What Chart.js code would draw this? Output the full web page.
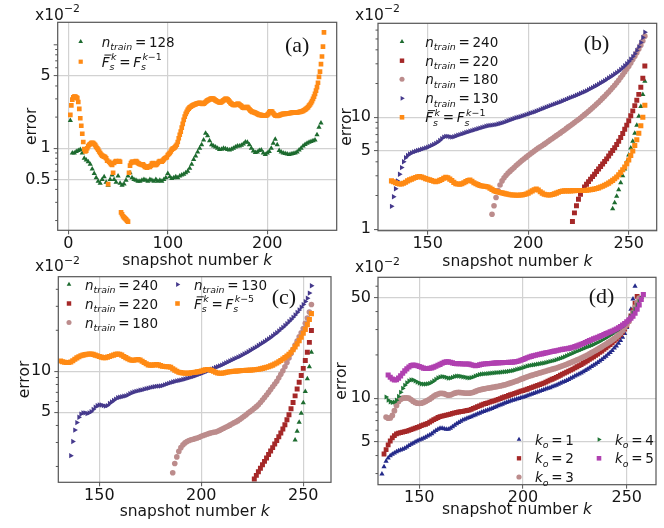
<!DOCTYPE html>
<html>
<head>
<meta charset="utf-8">
<script src="https://cdn.jsdelivr.net/npm/chart.js@4.4.1/dist/chart.umd.min.js"></script>
<style>
html, body { margin: 0; padding: 0; background: #fff; }
#wrap { position: relative; width: 664px; height: 528px; overflow: hidden; }
#wrap canvas { position: absolute; left: 0; top: 0; }
</style>
</head>
<body>
<div id="wrap">
  <canvas id="pa" width="664" height="528"></canvas>
  <canvas id="pb" width="664" height="528"></canvas>
  <canvas id="pc" width="664" height="528"></canvas>
  <canvas id="pd" width="664" height="528"></canvas>
</div>
<script>
// ---- text ----
const yTitle = 'error';
const xTitle = ['snapshot number ', 'k'];
const offsetText = 'x10^{−2}';

// ---- ticks ----
const aXTicks = [0, 100, 200];
const aYTicks = [0.5, 1, 5];
const bXTicks = [150, 200, 250];
const bYTicks = [1, 5, 10];
const cXTicks = [150, 200, 250];
const cYTicks = [5, 10];
const dXTicks = [150, 200, 250];
const dYTicks = [5, 10, 50];

// ---- panel (a): error (x10^-2) per snapshot k ----
const aLabels = ['n_{train} = 128', '\\bar{F}_s^k = F_s^{k−1}'];
const aGreenK0 = 2, aGreenStep = 2;   // k = 2, 4, ..., 254
const aGreen = [
  1.85, 0.9, 0.9, 0.93, 0.95, 0.97, 0.9, 0.8, 0.77, 0.74,
  0.7, 0.63, 0.57, 0.52, 0.48, 0.46, 0.5, 0.53, 0.47, 0.44,
  0.5, 0.55, 0.5, 0.47, 0.54, 0.46, 0.44, 0.45, 0.49, 0.54,
  0.58, 0.52, 0.5, 0.49, 0.48, 0.48, 0.49, 0.5, 0.49, 0.48,
  0.5, 0.49, 0.48, 0.5, 0.48, 0.49, 0.48, 0.5, 0.52, 0.57,
  0.53, 0.51, 0.52, 0.53, 0.52, 0.54, 0.55, 0.56, 0.58, 0.6,
  0.64, 0.7, 0.78, 0.84, 0.92, 1.0, 1.08, 1.2, 1.4, 1.32,
  1.18, 1.08, 1.05, 1.03, 1.0, 0.97, 0.98, 1.0, 0.99, 0.97,
  0.96, 0.98, 1.0, 1.03, 1.05, 1.05, 1.07, 1.1, 1.15, 1.14,
  1.08, 1.0, 0.94, 0.91, 0.92, 0.95, 0.96, 0.9, 0.87, 0.9,
  0.93, 1.0, 1.12, 1.22, 1.08, 0.95, 0.92, 0.9, 0.89, 0.88,
  0.87, 0.88, 0.89, 0.9, 0.92, 0.96, 1.0, 1.05, 1.09, 1.12,
  1.14, 1.16, 1.18, 1.2, 1.35, 1.6, 1.75
];
const aOrangeK0 = 2;                  // k = 2 ... 257
const aOrange = [
  2.1, 2.6, 2.95, 3.1, 3.15, 3.15, 3.1, 3.05, 2.8, 2.4,
  1.95, 1.65, 1.38, 1.15, 0.98, 0.93, 0.95, 1.0, 1.05, 1.08,
  1.1, 1.12, 1.13, 1.12, 1.1, 1.07, 1.03, 1.0, 0.97, 0.93,
  0.9, 0.87, 0.85, 0.84, 0.83, 0.82, 0.8, 0.76, 0.45, 0.74,
  0.72, 0.7, 0.69, 0.58, 0.72, 0.74, 0.75, 0.74, 0.74, 0.75,
  0.74, 0.24, 0.23, 0.22, 0.215, 0.21, 0.205, 0.2, 0.195, 0.58,
  0.68, 0.72, 0.74, 0.74, 0.73, 0.74, 0.75, 0.74, 0.72, 0.71,
  0.7, 0.7, 0.69, 0.7, 0.68, 0.66, 0.66, 0.65, 0.66, 0.67,
  0.66, 0.68, 0.71, 0.72, 0.71, 0.69, 0.69, 0.7, 0.72, 0.74,
  0.75, 0.74, 0.74, 0.76, 0.78, 0.8, 0.81, 0.82, 0.86, 0.88,
  0.9, 0.93, 0.97, 0.99, 1.0, 1.02, 1.05, 1.08, 1.15, 1.25,
  1.35, 1.45, 1.58, 1.72, 1.88, 2.02, 2.15, 2.25, 2.35, 2.42,
  2.48, 2.52, 2.56, 2.6, 2.63, 2.65, 2.67, 2.7, 2.72, 2.74,
  2.75, 2.73, 2.7, 2.68, 2.7, 2.75, 2.8, 2.85, 2.9, 2.93,
  2.96, 3.0, 3.02, 3.02, 3.0, 2.95, 2.9, 2.86, 2.83, 2.8,
  2.78, 2.77, 2.8, 2.85, 2.9, 2.95, 3.0, 3.0, 2.97, 2.9,
  2.82, 2.75, 2.7, 2.66, 2.63, 2.62, 2.63, 2.66, 2.68, 2.68,
  2.65, 2.6, 2.55, 2.5, 2.47, 2.45, 2.47, 2.5, 2.5, 2.45,
  2.38, 2.32, 2.28, 2.25, 2.24, 2.22, 2.2, 2.18, 2.15, 2.12,
  2.1, 2.1, 2.09, 2.08, 2.08, 2.07, 2.07, 2.08, 2.1, 2.15,
  2.22, 2.27, 2.28, 2.25, 2.18, 2.12, 2.08, 2.06, 2.05, 2.06,
  2.08, 2.1, 2.12, 2.14, 2.15, 2.15, 2.15, 2.16, 2.17, 2.18,
  2.18, 2.19, 2.2, 2.21, 2.22, 2.22, 2.22, 2.22, 2.22, 2.23,
  2.24, 2.25, 2.26, 2.28, 2.3, 2.33, 2.36, 2.4, 2.45, 2.5,
  2.58, 2.65, 2.75, 2.85, 3.0, 3.15, 3.35, 3.6, 3.9, 4.3,
  4.9, 5.5, 6.5, 7.7, 9.6, 13.2
];

// ---- panel (b) ----
const bLabels = ['n_{train} = 240', 'n_{train} = 220', 'n_{train} = 180', 'n_{train} = 130', '\\bar{F}_s^k = F_s^{k−1}'];
const bGreenK0 = 242;
const bGreen = [1.52, 1.72, 1.97, 2.25, 2.6, 3.0, 3.45, 4.0, 4.6, 5.3, 6.1, 7.2, 8.5, 10.2, 12.5, 16.0, 21.0];
const bRedK0 = 222;
const bRed = [
  1.17, 1.4, 1.62, 1.85, 2.05, 2.22, 2.38, 2.52, 2.66, 2.8,
  2.95, 3.1, 3.27, 3.45, 3.63, 3.83, 4.03, 4.25, 4.5, 4.77,
  5.05, 5.35, 5.7, 6.1, 6.6, 7.15, 7.8, 8.5, 9.3, 10.3,
  11.4, 12.7, 14.2, 16.0, 18.5, 22.3, 28.7
];
const bPinkK0 = 182;
const bPink = [
  1.36, 1.62, 1.92, 2.22, 2.48, 2.7, 2.88, 3.03, 3.17, 3.3,
  3.43, 3.56, 3.7, 3.84, 3.98, 4.12, 4.26, 4.4, 4.55, 4.7,
  4.85, 5.0, 5.15, 5.3, 5.45, 5.6, 5.75, 5.92, 6.1, 6.28,
  6.46, 6.65, 6.85, 7.05, 7.25, 7.47, 7.7, 7.95, 8.2, 8.45,
  8.7, 8.97, 9.25, 9.55, 9.85, 10.2, 10.55, 10.9, 11.3, 11.7,
  12.15, 12.6, 13.1, 13.6, 14.2, 14.8, 15.4, 16.1, 16.8, 17.6,
  18.4, 19.3, 20.3, 21.4, 22.6, 23.9, 25.3, 26.9, 28.6, 30.5,
  32.7, 35.0, 37.7, 40.6, 44.0, 48.0, 53.0
];
const bPurpleK0 = 132;
const bPurple = [
  1.6, 1.95, 2.3, 2.7, 3.1, 3.55, 4.0, 4.35, 4.55, 4.7,
  4.8, 4.9, 4.97, 5.05, 5.1, 5.18, 5.25, 5.32, 5.4, 5.5,
  5.6, 5.72, 5.85, 6.0, 6.2, 6.45, 6.65, 6.75, 6.75, 6.7,
  6.65, 6.7, 6.8, 6.9, 7.0, 7.1, 7.2, 7.3, 7.4, 7.5,
  7.6, 7.7, 7.8, 7.9, 8.0, 8.1, 8.2, 8.3, 8.4, 8.45,
  8.5, 8.55, 8.6, 8.7, 8.8, 8.9, 9.0, 9.15, 9.3, 9.45,
  9.6, 9.75, 9.9, 10.0, 10.1, 10.25, 10.4, 10.55, 10.7, 10.85,
  11.0, 11.15, 11.3, 11.5, 11.7, 11.9, 12.1, 12.3, 12.5, 12.7,
  12.9, 13.1, 13.3, 13.5, 13.7, 13.95, 14.2, 14.45, 14.7, 14.95,
  15.2, 15.45, 15.7, 16.0, 16.3, 16.6, 16.9, 17.2, 17.6, 18.0,
  18.4, 18.8, 19.2, 19.7, 20.2, 20.7, 21.2, 21.8, 22.4, 23.0,
  23.6, 24.3, 25.0, 25.8, 26.7, 27.7, 28.8, 30.0, 31.4, 33.0,
  34.8, 36.8, 39.5, 42.5, 46.5, 51.5, 57.5
];
const bOrangeK0 = 132;
const bOrange = [
  2.7, 2.65, 2.6, 2.56, 2.53, 2.53, 2.57, 2.63, 2.7, 2.76,
  2.8, 2.85, 2.9, 2.94, 2.95, 2.93, 2.88, 2.83, 2.79, 2.76,
  2.72, 2.68, 2.66, 2.68, 2.73, 2.78, 2.85, 2.91, 2.88, 2.8,
  2.72, 2.62, 2.55, 2.53, 2.52, 2.55, 2.6, 2.66, 2.72, 2.75,
  2.68, 2.6, 2.55, 2.5, 2.46, 2.43, 2.42, 2.41, 2.38, 2.33,
  2.27, 2.21, 2.17, 2.15, 2.13, 2.11, 2.09, 2.07, 2.05, 2.03,
  2.02, 2.02, 2.01, 2.01, 2.02, 2.02, 2.04, 2.06, 2.1, 2.15,
  2.2, 2.25, 2.28, 2.24, 2.16, 2.1, 2.05, 2.03, 2.02, 2.02,
  2.04, 2.07, 2.1, 2.14, 2.17, 2.19, 2.2, 2.2, 2.2, 2.2,
  2.21, 2.21, 2.22, 2.22, 2.22, 2.22, 2.22, 2.23, 2.24, 2.25,
  2.27, 2.29, 2.31, 2.34, 2.38, 2.42, 2.47, 2.52, 2.58, 2.65,
  2.73, 2.82, 2.93, 3.06, 3.22, 3.4, 3.6, 3.85, 4.15, 4.55,
  5.0, 5.6, 6.3, 7.2, 8.4, 10.0, 12.8
];

// ---- panel (c) ----
const cLabels = ['n_{train} = 240', 'n_{train} = 220', 'n_{train} = 180', 'n_{train} = 130', '\\bar{F}_s^k = F_s^{k−5}'];
const cGreenK0 = 246;
const cGreen = [3.13, 3.63, 4.22, 4.92, 5.88, 7.1, 8.8, 10.8, 13.8];
const cRedK0 = 226;
const cRed = [
  1.62, 1.72, 1.83, 1.94, 2.06, 2.18, 2.31, 2.45, 2.6, 2.75,
  2.92, 3.1, 3.3, 3.52, 3.77, 4.05, 4.4, 4.8, 5.3, 5.9,
  6.6, 7.4, 8.3, 9.3, 10.5, 12.0, 13.8, 16.3, 19.9
];
const cPinkK0 = 186;
const cPink = [
  1.8, 2.1, 2.35, 2.58, 2.75, 2.88, 2.98, 3.05, 3.1, 3.14,
  3.17, 3.2, 3.24, 3.28, 3.33, 3.38, 3.42, 3.46, 3.5, 3.53,
  3.56, 3.58, 3.62, 3.68, 3.75, 3.82, 3.88, 3.95, 4.02, 4.1,
  4.18, 4.25, 4.34, 4.44, 4.55, 4.67, 4.8, 4.93, 5.07, 5.2,
  5.35, 5.5, 5.68, 5.9, 6.15, 6.42, 6.7, 7.0, 7.35, 7.7,
  8.05, 8.45, 8.95, 9.5, 10.1, 10.8, 11.6, 12.5, 13.5, 14.5,
  15.6, 16.7, 17.9, 19.2, 20.6, 22.5, 24.6, 27.2, 30.9
];
const cPurpleK0 = 136;
const cPurple = [
  2.4, 3.05, 3.7, 4.2, 4.6, 4.85, 4.95, 4.95, 4.9, 4.95,
  5.05, 5.25, 5.45, 5.6, 5.65, 5.65, 5.6, 5.55, 5.6, 5.8,
  5.95, 6.1, 6.25, 6.4, 6.45, 6.5, 6.55, 6.6, 6.7, 6.85,
  6.95, 7.05, 7.12, 7.18, 7.25, 7.3, 7.38, 7.45, 7.5, 7.58,
  7.65, 7.7, 7.75, 7.78, 7.8, 7.85, 7.95, 8.05, 8.15, 8.25,
  8.35, 8.42, 8.5, 8.56, 8.62, 8.7, 8.78, 8.86, 8.95, 9.05,
  9.15, 9.25, 9.38, 9.5, 9.62, 9.75, 9.9, 10.05, 10.2, 10.35,
  10.5, 10.65, 10.8, 10.95, 11.1, 11.3, 11.5, 11.7, 11.9, 12.1,
  12.3, 12.5, 12.7, 12.9, 13.15, 13.4, 13.65, 13.9, 14.2, 14.5,
  14.8, 15.1, 15.45, 15.8, 16.15, 16.5, 16.9, 17.3, 17.7, 18.2,
  18.7, 19.2, 19.8, 20.4, 21.0, 21.7, 22.4, 23.2, 24.0, 24.9,
  25.9, 27.0, 28.2, 29.5, 30.9, 32.5, 34.4, 37.5, 42.5
];
const cOrangeK0 = 131;
const cOrange = [
  11.9, 11.75, 11.65, 11.6, 11.6, 11.7, 11.95, 12.25, 12.55, 12.8,
  13.0, 13.15, 13.25, 13.35, 13.4, 13.4, 13.3, 13.15, 13.0, 12.85,
  12.7, 12.6, 12.6, 12.7, 12.85, 13.0, 13.15, 13.3, 13.4, 13.35,
  13.15, 12.85, 12.6, 12.35, 12.15, 12.05, 12.05, 12.15, 12.2, 12.1,
  11.85, 11.6, 11.35, 11.15, 11.1, 11.1, 11.15, 11.2, 11.15, 11.0,
  10.9, 10.85, 10.8, 10.8, 10.7, 10.45, 10.2, 10.0, 9.85, 9.77,
  9.72, 9.7, 9.68, 9.7, 9.75, 9.8, 9.85, 9.9, 9.95, 10.05,
  10.15, 10.25, 10.3, 10.25, 10.15, 10.0, 9.85, 9.72, 9.67, 9.67,
  9.72, 9.8, 9.88, 9.93, 9.97, 10.0, 10.03, 10.06, 10.1, 10.12,
  10.14, 10.16, 10.18, 10.2, 10.22, 10.25, 10.3, 10.35, 10.42, 10.5,
  10.6, 10.7, 10.8, 10.95, 11.1, 11.3, 11.5, 11.75, 12.0, 12.3,
  12.6, 12.95, 13.3, 13.8, 14.4, 15.1, 15.9, 16.8, 17.8, 19.0,
  20.3, 22.0, 24.0, 26.5
];

// ---- panel (d) ----
const dLabels = ['k_o = 1', 'k_o = 2', 'k_o = 3', 'k_o = 4', 'k_o = 5'];
const dBlueK0 = 132;
const dBlue = [
  2.98, 3.35, 3.65, 3.85, 3.98, 4.08, 4.17, 4.25, 4.32, 4.38,
  4.43, 4.5, 4.58, 4.7, 4.8, 4.88, 4.96, 5.05, 5.13, 5.2,
  5.28, 5.37, 5.47, 5.56, 5.68, 5.82, 5.98, 6.1, 6.18, 6.2,
  6.15, 6.1, 6.1, 6.2, 6.35, 6.5, 6.65, 6.8, 6.93, 7.05,
  7.15, 7.25, 7.35, 7.45, 7.55, 7.65, 7.77, 7.88, 7.98, 8.08,
  8.18, 8.28, 8.38, 8.5, 8.62, 8.74, 8.86, 8.98, 9.1, 9.22,
  9.34, 9.46, 9.58, 9.68, 9.78, 9.88, 9.98, 10.08, 10.18, 10.3,
  10.42, 10.55, 10.68, 10.8, 10.93, 11.06, 11.2, 11.34, 11.48, 11.6,
  11.72, 11.85, 12.0, 12.15, 12.3, 12.5, 12.7, 12.9, 13.1, 13.3,
  13.5, 13.75, 14.0, 14.25, 14.5, 14.75, 15.0, 15.3, 15.6, 15.9,
  16.25, 16.6, 16.95, 17.3, 17.7, 18.15, 18.6, 19.1, 19.6, 20.2,
  20.8, 21.5, 22.3, 23.1, 24.1, 25.2, 26.5, 28.2, 31.0, 35.5,
  41.5, 49.0, 60.0
];
const dRedK0 = 133;
const dRed = [
  4.1, 4.4, 4.75, 5.05, 5.3, 5.5, 5.65, 5.73, 5.78, 5.82,
  5.86, 5.92, 5.98, 6.05, 6.12, 6.2, 6.28, 6.36, 6.45, 6.53,
  6.6, 6.7, 6.83, 6.97, 7.1, 7.23, 7.35, 7.45, 7.52, 7.58,
  7.64, 7.7, 7.77, 7.85, 7.92, 7.98, 8.03, 8.07, 8.12, 8.17,
  8.22, 8.28, 8.38, 8.5, 8.62, 8.74, 8.86, 8.98, 9.1, 9.2,
  9.3, 9.4, 9.5, 9.6, 9.7, 9.82, 9.95, 10.08, 10.2, 10.32,
  10.45, 10.58, 10.7, 10.82, 10.95, 11.08, 11.2, 11.3, 11.42, 11.55,
  11.7, 11.85, 12.0, 12.15, 12.3, 12.45, 12.6, 12.75, 12.95, 13.15,
  13.35, 13.55, 13.75, 13.95, 14.2, 14.45, 14.7, 14.95, 15.2, 15.45,
  15.7, 15.95, 16.25, 16.55, 16.85, 17.15, 17.5, 17.85, 18.2, 18.6,
  19.0, 19.4, 19.85, 20.3, 20.8, 21.3, 21.85, 22.4, 23.0, 23.6,
  24.3, 25.0, 25.8, 26.7, 27.7, 28.8, 30.2, 32.0, 34.3, 37.3,
  41.0, 45.5, 51.0
];
const dPinkK0 = 134;
const dPink = [
  7.4, 7.27, 7.3, 7.6, 8.2, 8.9, 9.5, 9.85, 10.0, 10.05,
  10.05, 10.0, 9.8, 9.55, 9.35, 9.25, 9.22, 9.25, 9.35, 9.5,
  9.68, 9.85, 10.1, 10.35, 10.55, 10.7, 10.8, 10.82, 10.75, 10.6,
  10.5, 10.55, 10.7, 10.85, 10.95, 10.98, 10.95, 10.9, 10.87, 10.85,
  10.85, 10.9, 11.0, 11.15, 11.3, 11.42, 11.52, 11.6, 11.68, 11.75,
  11.82, 11.88, 11.95, 12.02, 12.1, 12.18, 12.28, 12.38, 12.5, 12.62,
  12.76, 12.9, 13.05, 13.2, 13.38, 13.56, 13.74, 13.92, 14.1, 14.26,
  14.4, 14.55, 14.7, 14.85, 15.0, 15.15, 15.3, 15.45, 15.6, 15.75,
  15.9, 16.05, 16.2, 16.4, 16.6, 16.8, 17.0, 17.2, 17.45, 17.7,
  17.95, 18.2, 18.45, 18.7, 19.0, 19.3, 19.6, 19.95, 20.3, 20.7,
  21.1, 21.5, 21.9, 22.35, 22.8, 23.3, 23.8, 24.3, 24.8, 25.4,
  26.0, 26.7, 27.5, 28.4, 29.6, 31.0, 32.5, 34.2, 36.5, 39.5,
  43.0, 46.5, 49.5
];
const dGreenK0 = 134;
const dGreen = [
  10.2, 9.7, 9.45, 9.35, 9.4, 9.7, 10.3, 11.0, 11.7, 12.3,
  12.8, 13.2, 13.4, 13.4, 13.2, 12.95, 12.75, 12.6, 12.55, 12.55,
  12.6, 12.7, 12.9, 13.2, 13.55, 13.85, 14.05, 14.15, 14.1, 13.95,
  13.8, 13.8, 13.95, 14.15, 14.25, 14.25, 14.2, 14.1, 14.0, 13.9,
  13.85, 13.9, 14.05, 14.25, 14.45, 14.6, 14.7, 14.75, 14.8, 14.85,
  14.9, 14.95, 15.0, 15.05, 15.1, 15.15, 15.2, 15.25, 15.3, 15.38,
  15.46, 15.55, 15.7, 15.85, 16.0, 16.15, 16.3, 16.5, 16.7, 16.85,
  16.95, 17.05, 17.15, 17.25, 17.35, 17.45, 17.55, 17.7, 17.85, 18.0,
  18.15, 18.3, 18.5, 18.7, 18.9, 19.15, 19.4, 19.7, 20.0, 20.3,
  20.6, 20.9, 21.2, 21.5, 21.8, 22.1, 22.4, 22.7, 23.0, 23.3,
  23.6, 24.0, 24.4, 24.8, 25.3, 25.8, 26.3, 26.8, 27.4, 28.0,
  28.7, 29.3, 30.0, 30.7, 31.4, 32.3, 33.5, 35.0, 37.0, 39.2,
  41.5, 44.3, 47.0, 49.5
];
const dMagentaK0 = 135;
const dMagenta = [
  14.5, 14.0, 13.6, 13.4, 13.45, 13.8, 14.3, 14.9, 15.5, 16.0,
  16.5, 16.85, 17.0, 16.95, 16.8, 16.6, 16.4, 16.2, 16.1, 16.1,
  16.15, 16.25, 16.45, 16.7, 16.95, 17.2, 17.5, 17.75, 17.9, 17.9,
  17.8, 17.6, 17.45, 17.4, 17.4, 17.35, 17.3, 17.3, 17.3, 17.25,
  17.1, 16.95, 16.85, 16.9, 17.05, 17.2, 17.3, 17.35, 17.4, 17.45,
  17.5, 17.55, 17.6, 17.62, 17.65, 17.68, 17.7, 17.72, 17.75, 17.78,
  17.82, 17.9, 18.0, 18.15, 18.35, 18.6, 18.85, 19.1, 19.35, 19.55,
  19.75, 19.9, 20.05, 20.2, 20.35, 20.5, 20.65, 20.8, 20.95, 21.1,
  21.25, 21.4, 21.55, 21.7, 21.85, 22.0, 22.1, 22.2, 22.4, 22.6,
  22.85, 23.1, 23.4, 23.7, 24.0, 24.4, 24.8, 25.15, 25.5, 25.85,
  26.2, 26.55, 26.9, 27.3, 27.7, 28.1, 28.5, 28.9, 29.3, 29.8,
  30.3, 30.9, 31.5, 32.2, 33.0, 34.0, 35.0, 36.0, 37.2, 38.9,
  41.5, 44.5, 48.5, 52.5
];

// ---- styles ----
const GREEN = '#1d6b2f', ORANGE = '#ff8a14', RED = '#a52828', PINK = '#bc8c8c', PURPLE = '#45398c';
const BLUE = '#242a8a', GREEN_D = '#1e7535', MAGENTA = '#b040b0';
const TXT = '#161616', AXIS = '#555555', GRID = '#d2d2d2';
const FAM = '"DejaVu Sans"';

function pts(k0, vals, step) {
  return vals.map((v, i) => ({x: k0 + i * (step || 1), y: v}));
}

// tiny mathtext: letters italic, _ sub, ^ sup, \bar{}
function parseTex(src) {
  const out = [];
  let i = 0;
  const grab = () => {
    if (src[i] === '{') {
      const j = src.indexOf('}', i);
      const t = src.slice(i + 1, j);
      i = j + 1;
      return t;
    }
    return src[i++];
  };
  while (i < src.length) {
    if (src.startsWith('\\bar', i)) { i += 4; out.push({t: grab(), lvl: 0, bar: true}); }
    else if (src[i] === '_' || src[i] === '^') {
      const lvl = src[i] === '_' ? -1 : 1;
      i++;
      out.push({t: grab(), lvl});
    } else { out.push({t: src[i], lvl: 0}); i++; }
  }
  return out;
}

function drawTex(ctx, src, x, y, size, roman) {
  let cx = x, sStart = null, sEnd = x;
  ctx.textBaseline = 'alphabetic';
  ctx.textAlign = 'left';
  for (const p of parseTex(src)) {
    const fs = p.lvl ? size * 0.7 : size;
    const dy = p.lvl < 0 ? size * 0.26 : p.lvl > 0 ? -size * 0.48 : 0;
    let px;
    if (p.lvl) {
      if (sStart === null) { sStart = cx; sEnd = cx; }
      px = sStart + (p.lvl > 0 && !roman ? 1.5 : 0);
    } else {
      if (sStart !== null) { cx = sEnd; sStart = null; }
      px = cx;
    }
    const x0 = px;
    for (const ch of p.t) {
      if (ch === ' ') { px += size * 0.2; continue; }
      const it = !roman && /[A-Za-z]/.test(ch);
      ctx.font = (it ? 'italic ' : '') + fs + 'px ' + FAM;
      ctx.fillText(ch, px, y + dy);
      px += ctx.measureText(ch).width;
    }
    if (p.bar) ctx.fillRect(x0 + size * 0.2, y - size * 0.9, px - x0 - size * 0.05, 1);
    if (p.lvl) sEnd = Math.max(sEnd, px); else cx = px;
  }
}

const deco = {
  id: 'deco',
  afterDraw(chart, args, o) {
    const ctx = chart.ctx, a = chart.chartArea, ys = chart.scales.y;
    ctx.save();
    // minor ticks on the log axis
    ctx.strokeStyle = AXIS;
    ctx.lineWidth = 1;
    const lo = Math.floor(Math.log10(ys.min)), hi = Math.ceil(Math.log10(ys.max));
    for (let d = lo; d <= hi; d++) {
      for (let m = 1; m < 10; m++) {
        const v = +(m * Math.pow(10, d)).toPrecision(6);
        if (v < ys.min || v > ys.max || o.yTicks.includes(v)) continue;
        const py = ys.getPixelForValue(v);
        ctx.beginPath();
        ctx.moveTo(a.left, py);
        ctx.lineTo(a.left - (m === 1 ? 4 : 2.5), py);
        ctx.stroke();
      }
    }
    // frame
    ctx.lineWidth = 1.2;
    ctx.strokeRect(a.left, a.top, a.right - a.left, a.bottom - a.top);

    ctx.fillStyle = TXT;
    // x axis title with italic k
    ctx.textBaseline = 'alphabetic';
    ctx.textAlign = 'left';
    ctx.font = '15.5px ' + FAM;
    const w1 = ctx.measureText(xTitle[0]).width;
    ctx.font = 'italic 15.5px ' + FAM;
    const w2 = ctx.measureText(xTitle[1]).width;
    const sx = (a.left + a.right) / 2 - (w1 + w2) / 2;
    ctx.font = '15.5px ' + FAM;
    ctx.fillText(xTitle[0], sx, o.xtY);
    ctx.font = 'italic 15.5px ' + FAM;
    ctx.fillText(xTitle[1], sx + w1, o.xtY);

    // offset text
    drawTex(ctx, offsetText, o.offX, o.offY, 15.5, true);

    // panel tag
    ctx.font = '22px "Liberation Serif"';
    ctx.fillText(o.tag, o.tagX, o.tagY);

    // legend
    for (const it of o.legend) {
      const ds = chart.data.datasets[it.i];
      ctx.fillStyle = ds.pointBackgroundColor;
      Chart.helpers.drawPoint(ctx, {
        pointStyle: ds.pointStyle, rotation: ds.pointRotation,
        radius: ds.pointRadius * 0.9, borderWidth: 0
      }, it.mx, it.my);
      ctx.fillStyle = TXT;
      drawTex(ctx, ds.label, it.tx, it.my + 5, 13.5, false);
    }
    ctx.restore();
  }
};

function panel(id, p) {
  const n = p.series.length;
  const tickFont = {family: 'DejaVu Sans', size: 16, lineHeight: 1.2};
  new Chart(document.getElementById(id), {
    type: 'scatter',
    data: {
      datasets: p.series.map((s, i) => ({
        label: s.label,
        data: pts(s.k0, s.vals, s.step),
        pointStyle: s.style,
        pointRotation: s.rot || 0,
        pointRadius: s.r,
        pointBackgroundColor: s.color,
        pointBorderColor: s.color,
        pointBorderWidth: 0,
        backgroundColor: s.color,
        borderColor: s.color,
        order: n - i
      }))
    },
    options: {
      responsive: false,
      animation: false,
      devicePixelRatio: 1,
      events: [],
      layout: {padding: {left: p.L - p.W, top: p.T, right: 664 - p.R, bottom: 528 - p.B - 30}},
      plugins: {
        legend: {display: false},
        tooltip: {enabled: false},
        deco: {yTicks: p.yTicks, legend: p.legend, tag: p.tag, tagX: p.tagX, tagY: p.tagY,
               offX: p.offX, offY: p.offY, xtY: p.xtY}
      },
      scales: {
        x: {
          type: 'linear', min: p.xMin, max: p.xMax,
          afterBuildTicks: s => { s.ticks = p.xTicks.map(v => ({value: v})); },
          afterFit: s => { s.height = 30; },
          border: {display: false},
          grid: {color: GRID, lineWidth: 1.2, drawTicks: true, tickLength: 4, tickColor: AXIS, tickWidth: 1},
          ticks: {font: tickFont, color: TXT, padding: 0, maxRotation: 0, autoSkip: false}
        },
        y: {
          type: 'logarithmic', min: p.yMin, max: p.yMax,
          afterBuildTicks: s => { s.ticks = p.yTicks.map(v => ({value: v})); },
          afterFit: s => { s.width = p.W; },
          border: {display: false},
          title: {display: true, text: yTitle, color: TXT, padding: 0,
                  font: {family: 'DejaVu Sans', size: 15.5, lineHeight: 1.2}},
          grid: {color: GRID, lineWidth: 1.2, drawTicks: true, tickLength: 4, tickColor: AXIS, tickWidth: 1},
          ticks: {font: tickFont, color: TXT, padding: 3, autoSkip: false, callback: v => String(v)}
        }
      }
    },
    plugins: [deco]
  });
}

panel('pa', {
  L: 57.7, T: 22.3, R: 336.7, B: 230.3, W: 35,
  xMin: -10.7, xMax: 269.8, xTicks: aXTicks, yMin: 0.161, yMax: 16.5, yTicks: aYTicks,
  series: [
    {label: aLabels[0], k0: aGreenK0, step: aGreenStep, vals: aGreen, style: 'triangle', r: 3.0, color: GREEN},
    {label: aLabels[1], k0: aOrangeK0, vals: aOrange, style: 'rect', r: 3.3, color: ORANGE}
  ],
  legend: [{i: 0, mx: 80.7, my: 41.7, tx: 101.7}, {i: 1, mx: 80.7, my: 61.7, tx: 101.7}],
  tag: '(a)', tagX: 285, tagY: 52, offX: 35, offY: 19.5, xtY: 265
});

panel('pb', {
  L: 378, T: 23.3, R: 656.7, B: 230.7, W: 40,
  xMin: 125.3, xMax: 263.9, xTicks: bXTicks, yMin: 0.97, yMax: 69, yTicks: bYTicks,
  series: [
    {label: bLabels[0], k0: bGreenK0, vals: bGreen, style: 'triangle', r: 3.0, color: GREEN},
    {label: bLabels[1], k0: bRedK0, vals: bRed, style: 'rect', r: 3.5, color: RED},
    {label: bLabels[2], k0: bPinkK0, vals: bPink, style: 'circle', r: 2.8, color: PINK},
    {label: bLabels[3], k0: bPurpleK0, vals: bPurple, style: 'triangle', rot: 90, r: 3.1, color: PURPLE},
    {label: bLabels[4], k0: bOrangeK0, vals: bOrange, style: 'rect', r: 3.6, color: ORANGE}
  ],
  legend: [
    {i: 0, mx: 402, my: 41.7, tx: 425.3}, {i: 1, mx: 402, my: 60.7, tx: 425.3},
    {i: 2, mx: 402, my: 79.3, tx: 425.3}, {i: 3, mx: 402, my: 98.3, tx: 425.3},
    {i: 4, mx: 402, my: 117.3, tx: 425.3}
  ],
  tag: '(b)', tagX: 583.7, tagY: 50, offX: 355, offY: 19.5, xtY: 266
});

panel('pc', {
  L: 58.3, T: 276.7, R: 331, B: 482.3, W: 42.3,
  xMin: 129.9, xMax: 263.6, xTicks: cXTicks, yMin: 1.53, yMax: 49.5, yTicks: cYTicks,
  series: [
    {label: cLabels[0], k0: cGreenK0, vals: cGreen, style: 'triangle', r: 3.0, color: GREEN},
    {label: cLabels[1], k0: cRedK0, vals: cRed, style: 'rect', r: 3.5, color: RED},
    {label: cLabels[2], k0: cPinkK0, vals: cPink, style: 'circle', r: 2.8, color: PINK},
    {label: cLabels[3], k0: cPurpleK0, vals: cPurple, style: 'triangle', rot: 90, r: 3.1, color: PURPLE},
    {label: cLabels[4], k0: cOrangeK0, vals: cOrange, style: 'rect', r: 3.6, color: ORANGE}
  ],
  legend: [
    {i: 0, mx: 69, my: 284.5, tx: 85}, {i: 1, mx: 69, my: 303.5, tx: 85},
    {i: 2, mx: 69, my: 322.5, tx: 85},
    {i: 3, mx: 177.5, my: 284.5, tx: 194}, {i: 4, mx: 177.5, my: 303.5, tx: 194}
  ],
  tag: '(c)', tagX: 271.7, tagY: 304, offX: 35, offY: 271, xtY: 516
});

panel('pd', {
  L: 378, T: 277.3, R: 656, B: 484.7, W: 45,
  xMin: 130.1, xMax: 264.1, xTicks: dXTicks, yMin: 2.51, yMax: 69.2, yTicks: dYTicks,
  series: [
    {label: dLabels[0], k0: dBlueK0, vals: dBlue, style: 'triangle', r: 3.0, color: BLUE},
    {label: dLabels[1], k0: dRedK0, vals: dRed, style: 'rect', r: 3.4, color: RED},
    {label: dLabels[2], k0: dPinkK0, vals: dPink, style: 'circle', r: 2.9, color: PINK},
    {label: dLabels[3], k0: dGreenK0, vals: dGreen, style: 'triangle', rot: 90, r: 3.0, color: GREEN_D},
    {label: dLabels[4], k0: dMagentaK0, vals: dMagenta, style: 'rect', r: 3.6, color: MAGENTA}
  ],
  legend: [
    {i: 0, mx: 519, my: 439.5, tx: 535}, {i: 1, mx: 519, my: 458.3, tx: 535},
    {i: 2, mx: 519, my: 477, tx: 535},
    {i: 3, mx: 599, my: 439.5, tx: 615}, {i: 4, mx: 599, my: 458.3, tx: 615}
  ],
  tag: '(d)', tagX: 588.7, tagY: 303, offX: 355, offY: 272, xtY: 514
});
</script>
</body>
</html>
